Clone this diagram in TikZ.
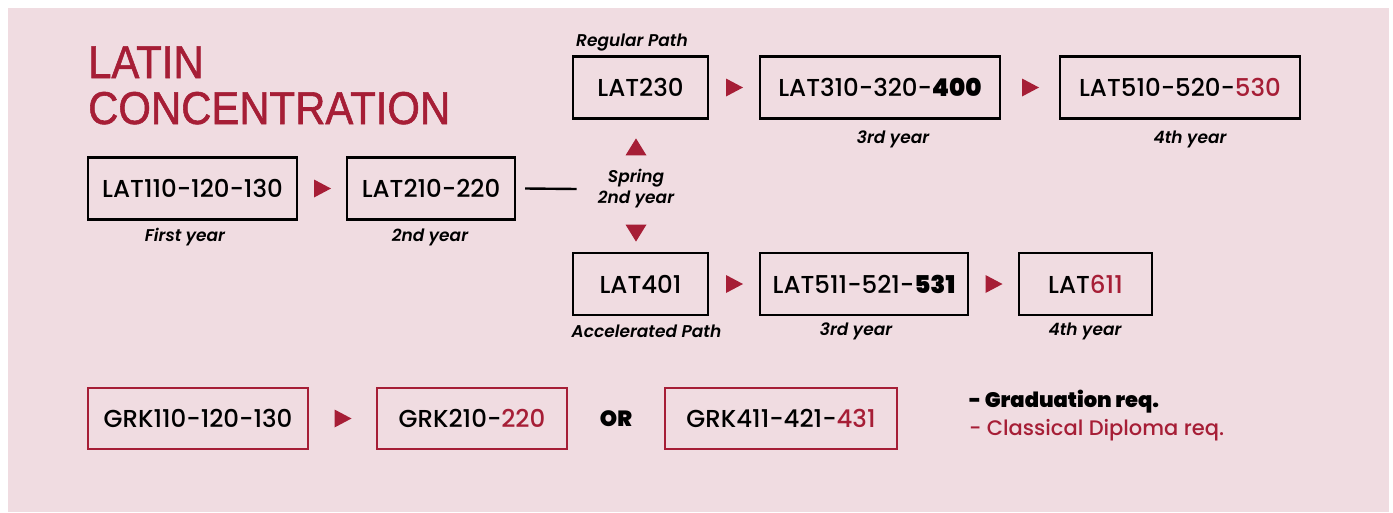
\documentclass[tikz,border=0pt]{standalone}
\usepackage{fontspec}
\usepackage{graphicx}
\setmainfont{Poppins}[UprightFont=* Medium, ItalicFont=* SemiBold Italic, BoldFont=* Black, BoldItalicFont=* Bold Italic]
\newfontfamily\titlefont{Liberation Sans}[FakeBold=1.3]
\usetikzlibrary{calc}
\definecolor{crim}{RGB}{166,30,54}
\definecolor{bg}{RGB}{240,220,225}
\newcommand\rtri[3][9]{\fill[crim] ($(#2.east)!0.5!(#3.west)$) ++(-8,-#1) -- ++(17,#1) -- ++(-17,#1) -- cycle;}
\begin{document}
\begin{tikzpicture}[x=1pt,y=-1pt,
  box/.style={draw=black,line width=2.4pt,minimum height=62pt,inner sep=0pt,
    font=\fontsize{24.5}{28}\selectfont},
  gbox/.style={box,draw=crim},
  lbl/.style={font=\fontsize{17}{21}\selectfont\itshape,inner sep=0pt},
  ttl/.style={font=\titlefont\fontsize{46}{46}\selectfont,text=crim,inner sep=0pt,anchor=base west},
  leg/.style={font=\fontsize{21}{24}\selectfont,inner sep=0pt,anchor=base west}
]
\useasboundingbox (0,0) rectangle (1393,512);
\fill[white] (0,0) rectangle (1393,512);
\fill[bg] (8,8) rectangle (1389,512);

% title
\node (t1) [ttl] at (88,78) {\scalebox{0.91}[1]{LATIN}};
\node (t2) [ttl] at (88,124) {\scalebox{0.91}[1]{CONCENTRATION}};

% first row
\node (lat110) [box,minimum width=209pt] at (192.5,188.5) {LAT110-120-130};
\node (lat210) [box,minimum width=168pt] at (431,188.5) {LAT210-220};
\node (spring) [lbl,align=center] at (636,189) {Spring\\2nd year};
\node (y1) [lbl] at (185,237) {First year};
\node (y2) [lbl] at (430,237) {2nd year};

% regular path
\node (lat230) [box,minimum width=135pt] at (640.5,87.5) {LAT230};
\node (lat310) [box,minimum width=240pt] at (880,87.5) {LAT310-320-\textbf{400}};
\node (lat510) [box,minimum width=240pt] at (1180,87.5) {LAT510-520-\textcolor{crim}{530}};
\node (rp) [lbl] at (632,43) {Regular Path};
\node (y3a) [lbl] at (893,139) {3rd year};
\node (y4a) [lbl] at (1190,139) {4th year};

% accelerated path
\node (lat401) [box,minimum width=135pt] at (640.5,284) {LAT401};
\node (lat511) [box,minimum width=208pt] at (864,284) {LAT511-521-\textbf{531}};
\node (lat611) [box,minimum width=133pt] at (1085.5,284) {LAT\textcolor{crim}{611}};
\node (ap) [lbl] at (646.5,331) {Accelerated Path};
\node (y3b) [lbl] at (856,331) {3rd year};
\node (y4b) [lbl] at (1085,331) {4th year};

% greek
\node (grk110) [gbox,minimum width=220pt,minimum height=61pt] at (198,418.5) {GRK110-120-130};
\node (grk210) [gbox,minimum width=190pt,minimum height=61pt] at (472,418.5) {GRK210-\textcolor{crim}{220}};
\node (or) [font=\fontsize{22}{24}\selectfont\bfseries,inner sep=0pt] at (616,419) {OR};
\node (grk411) [gbox,minimum width=232pt,minimum height=61pt] at (781,418.5) {GRK411-421-\textcolor{crim}{431}};

% legend
\node (lg1) [leg] at (969,407) {\textbf{- Graduation req.}};
\node (lg2) [leg,text=crim] at (969,435) {- Classical Diploma req.};

% connectors
\rtri{lat110}{lat210}
\rtri{lat230}{lat310}
\rtri{lat310}{lat510}
\rtri{lat401}{lat511}
\rtri{lat511}{lat611}
\rtri{grk110}{grk210}
\draw[line width=2.4pt] ($(lat210.east)+(9,0)$) -- ($(spring.west)+(-21,0)$);
\fill[crim] ($(spring.north)+(0,-31)$) -- ++(10.5,17) -- ++(-21,0) -- cycle;
\fill[crim] ($(spring.south)+(0,33)$) -- ++(10.5,-17) -- ++(-21,0) -- cycle;
\end{tikzpicture}
\end{document}
